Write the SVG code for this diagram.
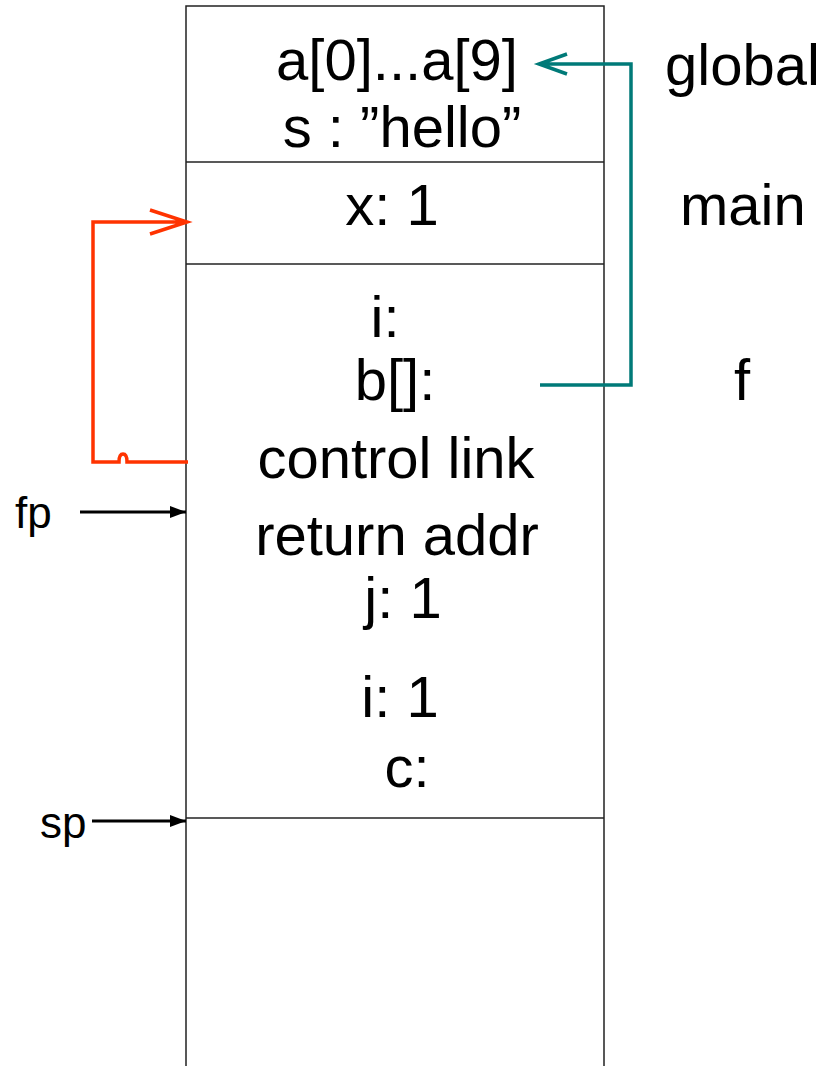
<svg xmlns="http://www.w3.org/2000/svg" width="829" height="1066" viewBox="0 0 829 1066">
<style>
.t{font-family:"Liberation Sans",Arial,sans-serif;font-size:58px;fill:#000;text-anchor:middle}
.l{font-family:"Liberation Sans",Arial,sans-serif;font-size:58px;fill:#000}
.s{font-family:"Liberation Sans",Arial,sans-serif;font-size:44px;fill:#000}
.b{stroke:#222;stroke-width:1.5;fill:none}
</style>
<defs>
<marker id="ah" markerWidth="16" markerHeight="12" refX="16" refY="6" orient="auto" markerUnits="userSpaceOnUse">
<path d="M0,0 L16,6 L0,12 Z" fill="#000"/>
</marker>
</defs>
<rect width="829" height="1066" fill="#fff"/>
<g id="stack">
<path class="b" d="M186,1066 V6 H604 V1066"/>
<line class="b" x1="186" y1="162" x2="604" y2="162"/>
<line class="b" x1="186" y1="264" x2="604" y2="264"/>
<line class="b" x1="186" y1="818" x2="604" y2="818"/>
</g>
<g id="global">
<text class="t" x="397" y="80">a[0]...a[9]</text>
<text class="t" x="402" y="147">s : ”hello”</text>
</g>
<g id="main">
<text class="t" x="392" y="225">x: 1</text>
</g>
<g id="f">
<text class="t" x="385" y="337">i:</text>
<text class="t" x="395" y="400">b[]:</text>
<text class="t" x="396" y="478">control link</text>
<text class="t" x="397" y="555">return addr</text>
<text class="t" x="403" y="618">j: 1</text>
<text class="t" x="400" y="717">i: 1</text>
<text class="t" x="407" y="787">c:</text>
</g>
<g id="labels">
<text class="l" x="665" y="85">global</text>
<text class="l" x="680" y="225">main</text>
<text class="l" x="734" y="400">f</text>
<text class="s" x="15" y="528">fp</text>
<text class="s" x="40" y="838">sp</text>
</g>
<g id="connectors">
<line x1="80" y1="512" x2="186" y2="512" stroke="#000" stroke-width="3" marker-end="url(#ah)"/>
<line x1="92" y1="821" x2="186" y2="821" stroke="#000" stroke-width="3" marker-end="url(#ah)"/>
<path d="M188,462 H127 Q127,454 123,454 Q119,454 119,462 H93 V222 H186 M150,210 L187,222 L150,234" fill="none" stroke="#ff3300" stroke-width="3.5"/>
<path d="M540,385 H631 V64 H540 M567,54 L539,64 L567,74" fill="none" stroke="#007a78" stroke-width="3.5"/>
</g>
</svg>
